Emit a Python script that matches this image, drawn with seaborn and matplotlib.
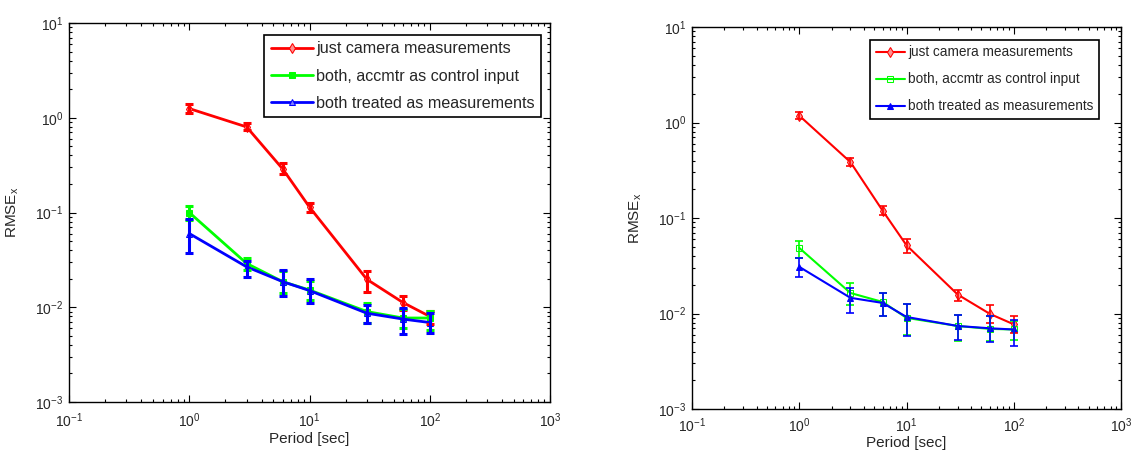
import numpy as np
import pandas as pd
import matplotlib
matplotlib.use("Agg")
import matplotlib.pyplot as plt
import seaborn as sns

# Sampling periods (seconds)
period = [1, 3, 6, 10, 30, 60, 100]

labels = ["just camera measurements",
          "both, accmtr as control input",
          "both treated as measurements"]

# Panel A: RMSE with lower / upper error bounds
a_cam = [1.25, 0.80, 0.287, 0.114, 0.0197, 0.0112, 0.0080]
a_cam_lo = [1.12, 0.74, 0.255, 0.102, 0.0146, 0.0094, 0.0067]
a_cam_hi = [1.38, 0.87, 0.330, 0.127, 0.0240, 0.0132, 0.0092]

a_ctl = [0.100, 0.029, 0.0186, 0.0152, 0.0090, 0.0077, 0.0077]
a_ctl_lo = [0.083, 0.025, 0.0140, 0.0120, 0.0068, 0.0060, 0.0058]
a_ctl_hi = [0.117, 0.033, 0.0240, 0.0190, 0.0110, 0.0095, 0.0092]

a_meas = [0.060, 0.0267, 0.0186, 0.0150, 0.00865, 0.0075, 0.0069]
a_meas_lo = [0.037, 0.021, 0.0130, 0.0112, 0.0069, 0.0052, 0.0053]
a_meas_hi = [0.086, 0.031, 0.0246, 0.0197, 0.0106, 0.0098, 0.0087]

# Panel B
b_cam = [1.18, 0.385, 0.119, 0.0518, 0.0158, 0.0099, 0.0077]
b_cam_lo = [1.08, 0.350, 0.107, 0.043, 0.0136, 0.0080, 0.0063]
b_cam_hi = [1.28, 0.420, 0.132, 0.060, 0.0178, 0.0124, 0.0095]

b_ctl = [0.0486, 0.0164, 0.0132, 0.0090, 0.0074, 0.0069, 0.0068]
b_ctl_lo = [0.038, 0.0122, 0.0094, 0.0060, 0.0052, 0.0051, 0.0053]
b_ctl_hi = [0.058, 0.0210, 0.0164, 0.0125, 0.0097, 0.0094, 0.0084]

b_meas = [0.0308, 0.0146, 0.0129, 0.0092, 0.0074, 0.0070, 0.0068]
b_meas_lo = [0.024, 0.0102, 0.0095, 0.0058, 0.0053, 0.0050, 0.0046]
b_meas_hi = [0.038, 0.0185, 0.0164, 0.0127, 0.0097, 0.0094, 0.0086]

sns.set_theme(style="ticks")
plt.rcParams["font.family"] = ["Liberation Sans", "DejaVu Sans"]
plt.rcParams["mathtext.fontset"] = "custom"
plt.rcParams["mathtext.rm"] = "Liberation Sans"
plt.rcParams["mathtext.it"] = "Liberation Sans"
plt.rcParams["axes.unicode_minus"] = False

colors = ["#ff0000", "#00ff00", "#0000ff"]

fig = plt.figure(figsize=(11.35, 4.5), dpi=100)
W, H = 1135, 450
L1, R1, T1, B1 = 69, 550, 23, 402
L2, R2, T2, B2 = 692, 1121, 27, 409
ax1 = fig.add_axes([L1 / W, 1 - B1 / H, (R1 - L1) / W, (B1 - T1) / H])
ax2 = fig.add_axes([L2 / W, 1 - B2 / H, (R2 - L2) / W, (B2 - T2) / H])


def draw(ax, series, lw, elw, cap, markers, mfc, msize, legend_fs,
         legend_anchor, spacing, handle_len, ylabel_pad, xtick_pad, xlabel_pad):
    for (vals, lo, hi), lab, col, mk, fc in zip(series, labels, colors, markers, mfc):
        df = pd.DataFrame({"period": period, "rmse": vals})
        sns.lineplot(data=df, x="period", y="rmse", ax=ax, color=col, lw=lw,
                     marker=mk, markersize=msize, markerfacecolor=fc,
                     markeredgecolor=col, label=lab)
        v = np.array(vals)
        yerr = np.vstack([v - np.array(lo), np.array(hi) - v])
        ax.errorbar(period, vals, yerr=yerr, fmt="none", ecolor=col,
                    elinewidth=elw, capsize=cap, capthick=elw, zorder=3)
    ax.set_xscale("log")
    ax.set_yscale("log")
    ax.set_xlim(0.1, 1000)
    ax.set_ylim(1e-3, 10)
    ax.set_xlabel("Period [sec]", fontsize=11, labelpad=xlabel_pad)
    ax.set_ylabel(r"RMSE$_x$", fontsize=11, labelpad=ylabel_pad)
    ax.tick_params(which="both", direction="in", top=True, right=True,
                   labelsize=10, color="black", width=0.8)
    ax.tick_params(axis="x", which="major", pad=xtick_pad)
    ax.tick_params(axis="y", which="major", pad=4)
    ax.tick_params(which="major", length=5)
    ax.tick_params(which="minor", length=2.5)
    for s in ax.spines.values():
        s.set_linewidth(1.0)
        s.set_color("black")
    leg = ax.legend(loc="upper right", bbox_to_anchor=legend_anchor,
                    fontsize=legend_fs, frameon=True, fancybox=False,
                    edgecolor="black", handlelength=handle_len, handletextpad=0.2,
                    borderpad=0.4, labelspacing=spacing, borderaxespad=0)
    leg.get_frame().set_linewidth(1.2)
    leg.get_frame().set_alpha(1)


series_a = [(a_cam, a_cam_lo, a_cam_hi), (a_ctl, a_ctl_lo, a_ctl_hi),
            (a_meas, a_meas_lo, a_meas_hi)]
series_b = [(b_cam, b_cam_lo, b_cam_hi), (b_ctl, b_ctl_lo, b_ctl_hi),
            (b_meas, b_meas_lo, b_meas_hi)]

draw(ax1, series_a, lw=2.0, elw=2.2, cap=3, markers=["d", "s", "^"],
     mfc=["#ff9090", "#00ff00", "#8080ff"], msize=5, legend_fs=11.6,
     legend_anchor=((541 - L1) / (R1 - L1), 1 - (35 - T1) / (B1 - T1)),
     spacing=0.75, handle_len=2.6, ylabel_pad=10, xtick_pad=7, xlabel_pad=1)
draw(ax2, series_b, lw=1.5, elw=1.2, cap=3, markers=["d", "s", "^"],
     mfc=["#ff9090", "none", "#0000ff"], msize=5, legend_fs=9.8,
     legend_anchor=((1099 - L2) / (R2 - L2), 1 - (40 - T2) / (B2 - T2)),
     spacing=0.95, handle_len=2.2, ylabel_pad=10, xtick_pad=5, xlabel_pad=1)

fig.savefig("out.png", dpi=100, facecolor="white")
